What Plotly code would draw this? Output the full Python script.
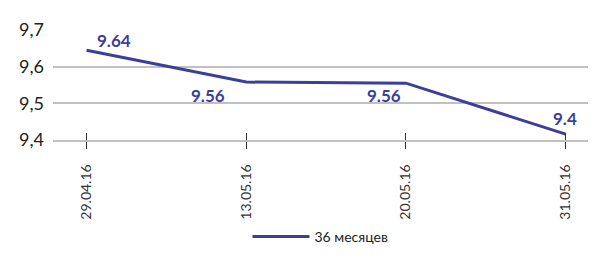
import plotly.graph_objects as go

dates = ["29.04.16", "13.05.16", "20.05.16", "31.05.16"]
values = [9.645, 9.558, 9.555, 9.416]
labels = ["9.64", "9.56", "9.56", "9.4"]
series_name = "36 месяцев"
y_ticks = [9.4, 9.5, 9.6, 9.7]

color = "#3b3f9b"
font_fam = "Lato, Open Sans, sans-serif"

fig = go.Figure()
fig.add_trace(go.Scatter(x=dates, y=values, mode="lines", name=series_name,
                         line=dict(color=color, width=3), showlegend=True))
# second axis for inside tick half
fig.add_trace(go.Scatter(x=dates, y=values, mode="lines", xaxis="x2",
                         line=dict(color="rgba(0,0,0,0)", width=0), showlegend=False,
                         hoverinfo="skip"))

shifts = [(27, 10), (-38, -13), (-22, -12), (-1, 16)]
for d, v, t, (dx, dy) in zip(dates, values, labels, shifts):
    fig.add_annotation(x=d, y=v, text="<b>%s</b>" % t, showarrow=False,
                       xshift=dx, yshift=dy,
                       font=dict(family=font_fam, size=17, color=color))

fig.update_layout(
    width=600, height=271,
    margin=dict(l=53, r=12, t=30, b=131),
    plot_bgcolor="white", paper_bgcolor="white",
    separators=",.",
    font=dict(family=font_fam, color="#222"),
    xaxis=dict(type="category", range=[-0.21, 3.14], showgrid=False,
               ticks="outside", ticklen=7, tickcolor="#333", tickwidth=1,
               tickangle=-90, tickfont=dict(family="Lato, sans-serif", size=14, color="#333"),
               ticklabelstandoff=10,
               showline=True, linecolor="#c0c0c0", linewidth=1.5, zeroline=False),
    xaxis2=dict(type="category", range=[-0.21, 3.14], overlaying="x",
                anchor="y", side="bottom", showgrid=False, ticks="inside",
                ticklen=7, tickcolor="#333", tickwidth=1, showticklabels=False,
                showline=False, zeroline=False),
    yaxis=dict(range=[9.4, 9.7], tickvals=y_ticks, tickformat=".1f",
               showgrid=True, gridcolor="#c0c0c0", gridwidth=1.5,
               zeroline=False, showline=False, ticks="",
               tickfont=dict(family="Lato, sans-serif", size=18, color="#222"),
               ticklabelstandoff=8),
    legend=dict(orientation="h", x=0.5, xanchor="center", y=-0.88,
                yanchor="middle", font=dict(family="Lato, sans-serif", size=14, color="#222"),
                itemwidth=57),
)

fig.write_html("out.html")
